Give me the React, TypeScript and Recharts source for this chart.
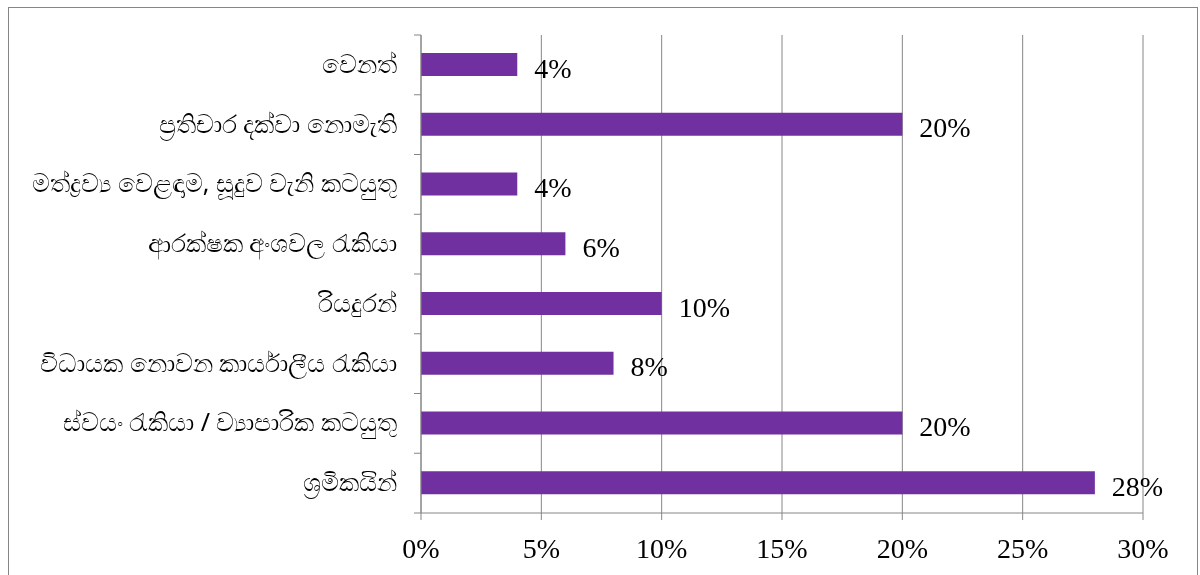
import { Bar, BarChart, CartesianGrid, LabelList, XAxis, YAxis } from 'recharts'

const categories = [
  'වෙනත්',
  'ප්‍රතිචාර දක්වා නොමැති',
  'මත්ද්‍රව්‍ය වෙළඳාම, සූදුව වැනි කටයුතු',
  'ආරක්ෂක අංශවල රැකියා',
  'රියදුරන්',
  'විධායක නොවන කාර්යාලීය රැකියා',
  'ස්වයං රැකියා / ව්‍යාපාරික කටයුතු',
  'ශ්‍රමිකයින්',
]
const shares = [4, 20, 4, 6, 10, 8, 20, 28]
const xTicks = [0, 5, 10, 15, 20, 25, 30]

const data = categories.map((name, i) => ({ name, share: shares[i] }))

const GRID = '#868686'
const SERIF = '"Liberation Serif", "DejaVu Serif", serif'
const SANS = '"Noto Sans", "DejaVu Sans", sans-serif'

const W = 1188
const H = 580
const MARGIN = { top: 27, right: 54, left: 0, bottom: 35 }
const X_AXIS_H = 40
const BAND = (H - MARGIN.top - MARGIN.bottom - X_AXIS_H) / categories.length

function CategoryTick(props: any) {
  const { x, y, payload, index } = props
  return (
    <g>
      <line x1={x + 7} x2={x + 14} y1={y - BAND / 2} y2={y - BAND / 2} stroke={GRID} />
      {index === categories.length - 1 && (
        <line x1={x + 7} x2={x + 14} y1={y + BAND / 2} y2={y + BAND / 2} stroke={GRID} />
      )}
      <text x={x - 10} y={y + 8} textAnchor="end" fontSize={25} fontFamily={SANS} fill="#000">
        {payload.value}
      </text>
    </g>
  )
}

function ValueLabel(props: any) {
  const { x, y, width, height, value } = props
  return (
    <text x={x + width + 17} y={y + height / 2 + 13} fontSize={28} fontFamily={SERIF} fill="#000">
      {`${value}%`}
    </text>
  )
}

export default function App() {
  return (
    // outer frame, pinned so the page never scrolls; bottom edge is cut off like the source
    <div style={{ position: 'fixed', top: 7, left: 8, width: W + 2, height: 568, overflow: 'hidden' }}>
      <div style={{ width: W, height: H, border: `1px solid ${GRID}` }}>
        <BarChart width={W} height={H} data={data} layout="vertical" margin={MARGIN}>
          <CartesianGrid vertical horizontal={false} stroke={GRID} />
          <XAxis
            type="number"
            domain={[0, 30]}
            ticks={xTicks}
            tickFormatter={(v) => `${v}%`}
            height={X_AXIS_H}
            stroke={GRID}
            tickSize={7}
            tickMargin={18}
            tick={{ fill: '#000', fontSize: 28, fontFamily: SERIF }}
            interval={0}
          />
          <YAxis
            type="category"
            dataKey="name"
            width={412}
            stroke={GRID}
            tickLine={false}
            tickSize={7}
            tickMargin={7}
            tick={<CategoryTick />}
            interval={0}
          />
          <Bar dataKey="share" fill="#7030A0" barSize={23} isAnimationActive={false}>
            <LabelList dataKey="share" content={<ValueLabel />} />
          </Bar>
        </BarChart>
      </div>
    </div>
  )
}
